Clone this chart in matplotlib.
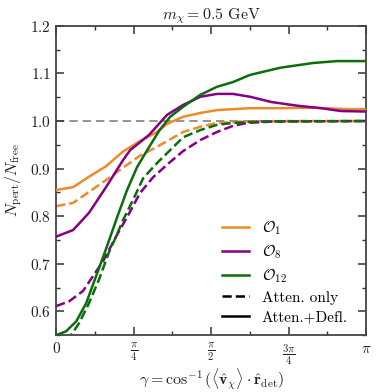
import numpy as np
import matplotlib
matplotlib.use("Agg")
import matplotlib.pyplot as plt
from matplotlib.lines import Line2D

plt.rcParams["font.family"] = ["serif"]
plt.rcParams["font.serif"] = ["cmr10", "DejaVu Serif"]
plt.rcParams["mathtext.fontset"] = "cm"
plt.rcParams["axes.formatter.use_mathtext"] = True

# gamma in units of pi
o1_x = [0, 0.055, 0.106, 0.161, 0.216, 0.268, 0.323, 0.358, 0.41, 0.465, 0.519, 0.626, 0.723, 0.829, 0.939, 1.0]
o1_full = [0.855, 0.861, 0.883, 0.905, 0.936, 0.957, 0.976, 0.994, 1.009, 1.017, 1.023, 1.027, 1.027, 1.028, 1.025, 1.025]
o1_att_x = [0, 0.055, 0.106, 0.161, 0.216, 0.268, 0.323, 0.41, 0.465, 0.519, 0.6, 0.75, 1.0]
o1_att = [0.821, 0.828, 0.851, 0.876, 0.902, 0.926, 0.945, 0.977, 0.988, 0.996, 0.999, 1.0, 1.0]

o8_x = [0, 0.055, 0.106, 0.161, 0.216, 0.239, 0.268, 0.3, 0.358, 0.41, 0.465, 0.519, 0.571, 0.626, 0.694, 0.781, 0.855, 0.919, 1.0]
o8_full = [0.757, 0.771, 0.807, 0.861, 0.918, 0.939, 0.954, 0.971, 1.013, 1.034, 1.051, 1.057, 1.057, 1.051, 1.040, 1.032, 1.027, 1.021, 1.020]
o8_att_x = [0, 0.042, 0.087, 0.119, 0.152, 0.194, 0.229, 0.271, 0.313, 0.368, 0.41, 0.465, 0.519, 0.571, 0.616, 0.7, 1.0]
o8_att = [0.611, 0.621, 0.643, 0.674, 0.706, 0.758, 0.798, 0.849, 0.882, 0.914, 0.937, 0.960, 0.977, 0.990, 0.996, 0.999, 1.0]

o12_x = [0, 0.032, 0.065, 0.097, 0.129, 0.161, 0.197, 0.229, 0.261, 0.294, 0.333, 0.368, 0.41, 0.465, 0.519, 0.571, 0.626, 0.723, 0.829, 0.906, 1.0]
o12_full = [0.550, 0.558, 0.579, 0.617, 0.674, 0.731, 0.798, 0.855, 0.903, 0.939, 0.980, 1.009, 1.030, 1.055, 1.072, 1.082, 1.097, 1.112, 1.122, 1.126, 1.126]
o12_att_x = [0, 0.048, 0.074, 0.106, 0.139, 0.171, 0.194, 0.216, 0.248, 0.281, 0.326, 0.365, 0.41, 0.465, 0.519, 0.571, 0.65, 1.0]
o12_att = [0.520, 0.550, 0.575, 0.617, 0.668, 0.725, 0.758, 0.792, 0.834, 0.880, 0.912, 0.937, 0.966, 0.981, 0.992, 0.996, 0.999, 1.0]

labels = [r"$\mathcal{O}_1$", r"$\mathcal{O}_8$", r"$\mathcal{O}_{12}$"]
colors = ["#ee8a2a", "#850085", "#0a6e0a"]

fig = plt.figure(figsize=(3.79, 3.92), dpi=100)
ax = fig.add_axes([0.148, 0.145, 0.818, 0.789])

ax.axhline(1.0, color="gray", lw=1.2, ls=(0, (5, 3)), zorder=1)

series = [(o1_x, o1_full, o1_att_x, o1_att),
          (o8_x, o8_full, o8_att_x, o8_att),
          (o12_x, o12_full, o12_att_x, o12_att)]
for (xf, yf, xa, ya), c in zip(series, colors):
    ax.plot(np.array(xa) * np.pi, ya, color=c, lw=1.8, ls="--", zorder=2)
    ax.plot(np.array(xf) * np.pi, yf, color=c, lw=1.8, zorder=3)

ax.set_xlim(0, np.pi)
ax.set_ylim(0.55, 1.2)
ax.set_xticks([0, np.pi / 4, np.pi / 2, 3 * np.pi / 4, np.pi])
ax.set_xticklabels(["0", r"$\frac{\pi}{4}$", r"$\frac{\pi}{2}$", r"$\frac{3\pi}{4}$", r"$\pi$"])
ax.set_xticks(np.arange(1, 8, 2) * np.pi / 8, minor=True)
ax.set_yticks([0.6, 0.7, 0.8, 0.9, 1.0, 1.1, 1.2])
ax.set_yticks(np.arange(0.55, 1.2, 0.1), minor=True)
ax.tick_params(which="both", direction="in", top=True, right=True, colors="#333333",
               labelcolor="#222222", labelsize=11)
ax.tick_params(which="major", length=6, width=1.1)
ax.tick_params(which="minor", length=3, width=1.0)
ax.tick_params(axis="x", which="major", pad=5)
for s in ax.spines.values():
    s.set_color("#444444")
    s.set_linewidth(1.3)

ax.set_xlabel(r"$\gamma = \cos^{-1}(\langle\hat{\mathbf{v}}_\chi\rangle \cdot \hat{\mathbf{r}}_{\rm det})$",
              fontsize=11.5, color="#222222", labelpad=0)
ax.set_ylabel(r"$N_{\rm pert}/N_{\rm free}$", fontsize=11.5, color="#222222")
ax.set_title(r"$m_\chi = 0.5$ GeV", fontsize=11.5, color="#222222", pad=4)

handles = [Line2D([], [], color=c, lw=1.8) for c in colors]
handles += [Line2D([], [], color="black", lw=1.8, ls="--"),
            Line2D([], [], color="black", lw=1.8)]
ax.legend(handles, labels + ["Atten. only", "Atten.+Defl."], loc="lower right",
          bbox_to_anchor=(0.975, 0.0), frameon=False, fontsize=11,
          handlelength=1.8, labelspacing=0.4, borderaxespad=0.3)

fig.savefig("out.png", dpi=100)
